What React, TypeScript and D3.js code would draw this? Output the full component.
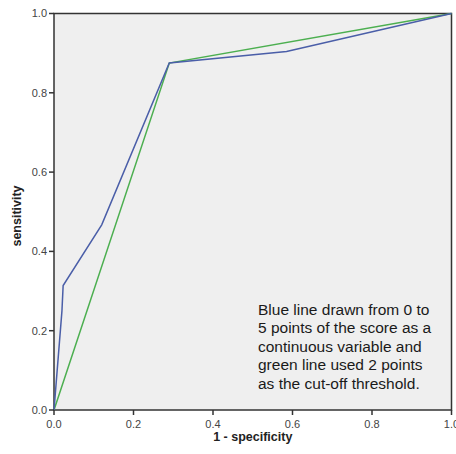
import { useMemo } from 'react';
import * as d3 from 'd3';

// ROC points: [1 - specificity, sensitivity]
const blueFpr = [0, 0.02, 0.023, 0.12, 0.29, 0.585, 1];
const blueTpr = [0, 0.25, 0.314, 0.467, 0.875, 0.904, 1];
const greenFpr = [0, 0.29, 1];
const greenTpr = [0, 0.875, 1];

const ticks = [0, 0.2, 0.4, 0.6, 0.8, 1.0];
const noteLines = [
  'Blue line drawn from 0 to',
  '5 points of the score as a',
  'continuous variable and',
  'green line used 2 points',
  'as the cut-off threshold.',
];

const W = 456;
const H = 454;
const margin = { left: 54, right: 4.5, top: 13.5, bottom: 44 };

export default function App() {
  const x = useMemo(() => d3.scaleLinear().domain([0, 1]).range([margin.left, W - margin.right]), []);
  const y = useMemo(() => d3.scaleLinear().domain([0, 1]).range([H - margin.bottom, margin.top]), []);

  const line = d3
    .line<[number, number]>()
    .x((d) => x(d[0]))
    .y((d) => y(d[1]));

  const blue = blueFpr.map((v, i) => [v, blueTpr[i]] as [number, number]);
  const green = greenFpr.map((v, i) => [v, greenTpr[i]] as [number, number]);

  const font = "'Liberation Sans', Arial, sans-serif";

  return (
    <svg
      width={W}
      height={H}
      style={{ position: 'absolute', left: 0, top: 0, background: '#fff' }}
      fontFamily={font}
    >
      <rect
        x={x(0)}
        y={y(1)}
        width={x(1) - x(0)}
        height={y(0) - y(1)}
        fill="#efefef"
        stroke="#333"
        strokeWidth={1.5}
      />

      <path d={line(green) ?? ''} fill="none" stroke="#4caf50" strokeWidth={1.5} />
      <path d={line(blue) ?? ''} fill="none" stroke="#4a5ea8" strokeWidth={1.5} />

      {/* y axis */}
      {ticks.map((t) => (
        <g key={'y' + t} transform={`translate(${x(0)}, ${y(t)})`}>
          <line x1={-5} x2={0} stroke="#333" strokeWidth={1.5} />
          <text x={-7} dy="0.35em" textAnchor="end" fontSize={11} fill="#444">
            {t.toFixed(1)}
          </text>
        </g>
      ))}

      {/* x axis */}
      {ticks.map((t) => (
        <g key={'x' + t} transform={`translate(${x(t)}, ${y(0)})`}>
          <line y1={0} y2={5} stroke="#333" strokeWidth={1.5} />
          <text y={18} textAnchor="middle" fontSize={11} fill="#444">
            {t.toFixed(1)}
          </text>
        </g>
      ))}

      <text
        x={(x(0) + x(1)) / 2}
        y={441}
        textAnchor="middle"
        fontSize={12.5}
        fontWeight="bold"
        fill="#222"
      >
        1 - specificity
      </text>
      <text
        transform={`translate(21, 216) rotate(-90)`}
        textAnchor="middle"
        fontSize={12.5}
        fontWeight="bold"
        fill="#222"
      >
        sensitivity
      </text>

      {/* annotation */}
      <text x={258} y={315} fontSize={15.5} fill="#1a1a1a">
        {noteLines.map((s, i) => (
          <tspan key={i} x={258} dy={i === 0 ? 0 : 18.4}>
            {s}
          </tspan>
        ))}
      </text>
    </svg>
  );
}
